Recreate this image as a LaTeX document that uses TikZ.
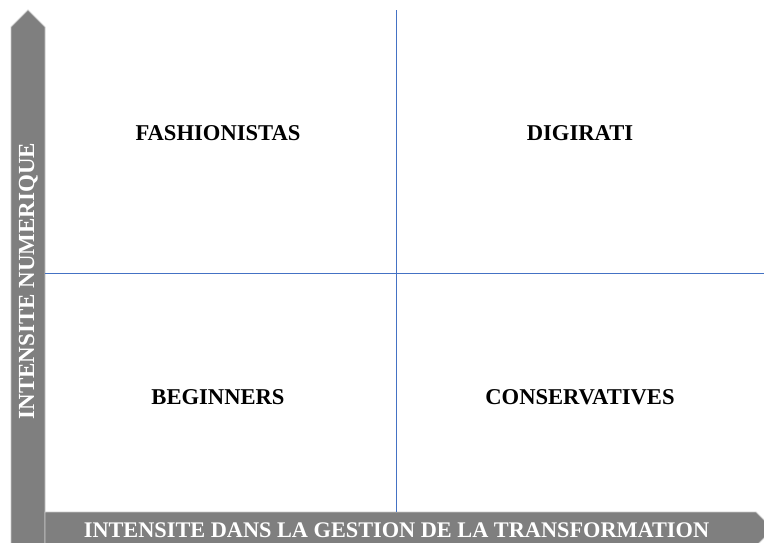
\documentclass[tikz,border=0pt]{standalone}
\usepackage{fontspec}
\setmainfont{Liberation Serif}
\definecolor{axisgray}{RGB}{127,127,127}
\definecolor{axisedge}{RGB}{200,200,200}
\definecolor{quadblue}{RGB}{68,114,196}
\tikzset{
  axisbar/.style={fill=axisgray, draw=axisedge, line width=0.8pt},
  quadline/.style={draw=quadblue, line width=1pt},
  quadlabel/.style={font=\bfseries\fontsize{22.6}{26}\selectfont, text=black, inner sep=0pt},
  axislabel/.style={font=\bfseries\fontsize{22.3}{26}\selectfont, text=white, inner sep=0pt}
}
\begin{document}
\begin{tikzpicture}[x=1pt,y=-1pt]
\useasboundingbox (0,0) rectangle (764,542);
% vertical axis arrow
\draw[axisbar] (11,545) -- (11,27) -- (28,10) -- (45,27) -- (45,545) -- cycle;
% horizontal axis arrow
\draw[axisbar] (45,512) -- (756,512) -- (773,529) -- (756,546) -- (45,546) -- cycle;
% quadrant lines
\coordinate (vtop) at (396,10);
\coordinate (vbot) at (396,512);
\coordinate (hleft) at (45,273.5);
\coordinate (hright) at (764,273.5);
\draw[quadline] (vtop) -- (vbot);
\draw[quadline] (hleft) -- (hright);
% labels
\node[quadlabel] (fash) at (218,133) {FASHIONISTAS};
\node[quadlabel] (digi) at (580,133) {DIGIRATI};
\node[quadlabel] (begi) at (218,397) {BEGINNERS};
\node[quadlabel] (cons) at (580,397) {CONSERVATIVES};
\node[axislabel] (xlab) at (396.5,530) {INTENSITE DANS LA GESTION DE LA TRANSFORMATION};
\node[axislabel, rotate=90, font=\bfseries\fontsize{23}{26}\selectfont] (ylab) at (28.5,281) {INTENSITE NUMERIQUE};
\end{tikzpicture}
\end{document}
